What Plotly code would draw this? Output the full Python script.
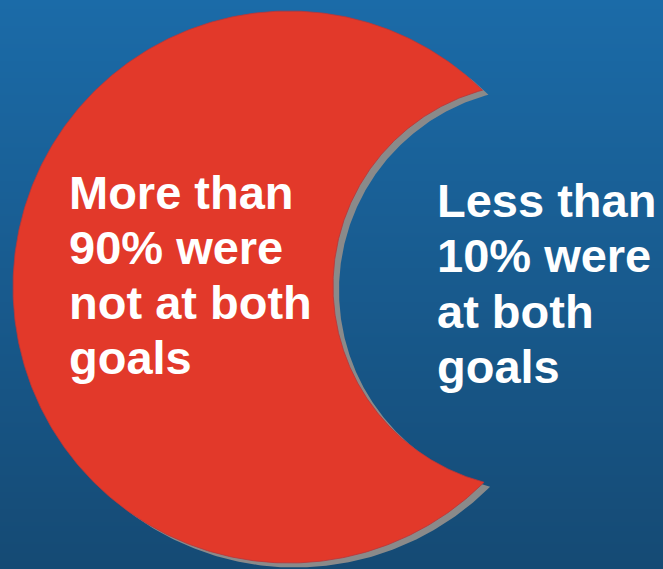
import numpy as np
import plotly.graph_objects as go

# Shares of patients (percent)
shares = [90, 10]
left_lines = ["More than", f"{shares[0]}% were", "not at both", "goals"]
right_lines = ["Less than", f"{shares[1]}% were", "at both", "goals"]

W, H = 663, 569

# Crescent geometry in pixel units (y grows downward)
outer_c, outer_r = (289.0, 287.0), 276.0
inner_c, inner_r = (536.0, 286.0), 203.0
shadow_off = (6.0, 4.5)


def crescent(oc, orad, ic, irad, n=400):
    (x1, y1), (x2, y2) = oc, ic
    d = np.hypot(x2 - x1, y2 - y1)
    a = (d**2 + orad**2 - irad**2) / (2 * d)
    h = np.sqrt(orad**2 - a**2)
    ux, uy = (x2 - x1) / d, (y2 - y1) / d
    mx, my = x1 + a * ux, y1 + a * uy
    p_top = (mx + h * uy, my - h * ux)
    p_bot = (mx - h * uy, my + h * ux)
    if p_top[1] > p_bot[1]:
        p_top, p_bot = p_bot, p_top
    # outer arc: top tip -> around the left -> bottom tip
    t0 = np.arctan2(p_top[1] - y1, p_top[0] - x1)
    t1 = np.arctan2(p_bot[1] - y1, p_bot[0] - x1)
    if t1 > t0:
        t1 -= 2 * np.pi
    to = np.linspace(t0, t1, n)
    ox = x1 + orad * np.cos(to)
    oy = y1 + orad * np.sin(to)
    # inner arc: bottom tip -> leftmost point -> top tip
    s0 = np.arctan2(p_bot[1] - y2, p_bot[0] - x2)
    s1 = np.arctan2(p_top[1] - y2, p_top[0] - x2)
    if s1 < s0:
        s1 += 2 * np.pi
    ti = np.linspace(s0, s1, n)
    ix = x2 + irad * np.cos(ti)
    iy = y2 + irad * np.sin(ti)
    return np.concatenate([ox, ix]), np.concatenate([oy, iy])


fig = go.Figure()

# Vertical blue gradient background
gy = np.linspace(0, H, 60)
fig.add_trace(go.Heatmap(
    x=[0, W], y=gy, z=[[v, v] for v in gy],
    colorscale=[[0, "#1b6ba8"], [1, "#154a74"]],
    zsmooth="best", showscale=False, hoverinfo="skip",
))

# Drop shadow
sx, sy = crescent((outer_c[0] + shadow_off[0], outer_c[1] + shadow_off[1]), outer_r,
                  (inner_c[0] + shadow_off[0], inner_c[1] + shadow_off[1]), inner_r)
fig.add_trace(go.Scatter(x=sx, y=sy, mode="lines", fill="toself",
                         fillcolor="#8a8a8a", line=dict(width=0, color="#8a8a8a"),
                         hoverinfo="skip", showlegend=False))

# Red crescent
cx, cy = crescent(outer_c, outer_r, inner_c, inner_r)
fig.add_trace(go.Scatter(x=cx, y=cy, mode="lines", fill="toself",
                         fillcolor="#e2392a", line=dict(width=0.8, color="#b8363a"),
                         hoverinfo="skip", showlegend=False))

font = dict(family="Liberation Sans, Arial, sans-serif", size=47, color="white")
left_base = [207, 262, 317, 372]
right_base = [215, 270, 326, 381]
for txt, yb in zip(left_lines, left_base):
    fig.add_annotation(x=67, y=yb, text=f"<b>{txt}</b>", showarrow=False,
                       xanchor="left", yanchor="middle", yshift=15, font=font)
for txt, yb in zip(right_lines, right_base):
    fig.add_annotation(x=435, y=yb, text=f"<b>{txt}</b>", showarrow=False,
                       xanchor="left", yanchor="middle", yshift=15, font=font)

fig.update_layout(
    width=W, height=H, margin=dict(l=0, r=0, t=0, b=0),
    paper_bgcolor="#154a74", plot_bgcolor="#154a74",
    showlegend=False,
    xaxis=dict(range=[0, W], visible=False, fixedrange=True),
    yaxis=dict(range=[H, 0], visible=False, fixedrange=True),
)

fig.write_html("out.html", config={"displayModeBar": False})
